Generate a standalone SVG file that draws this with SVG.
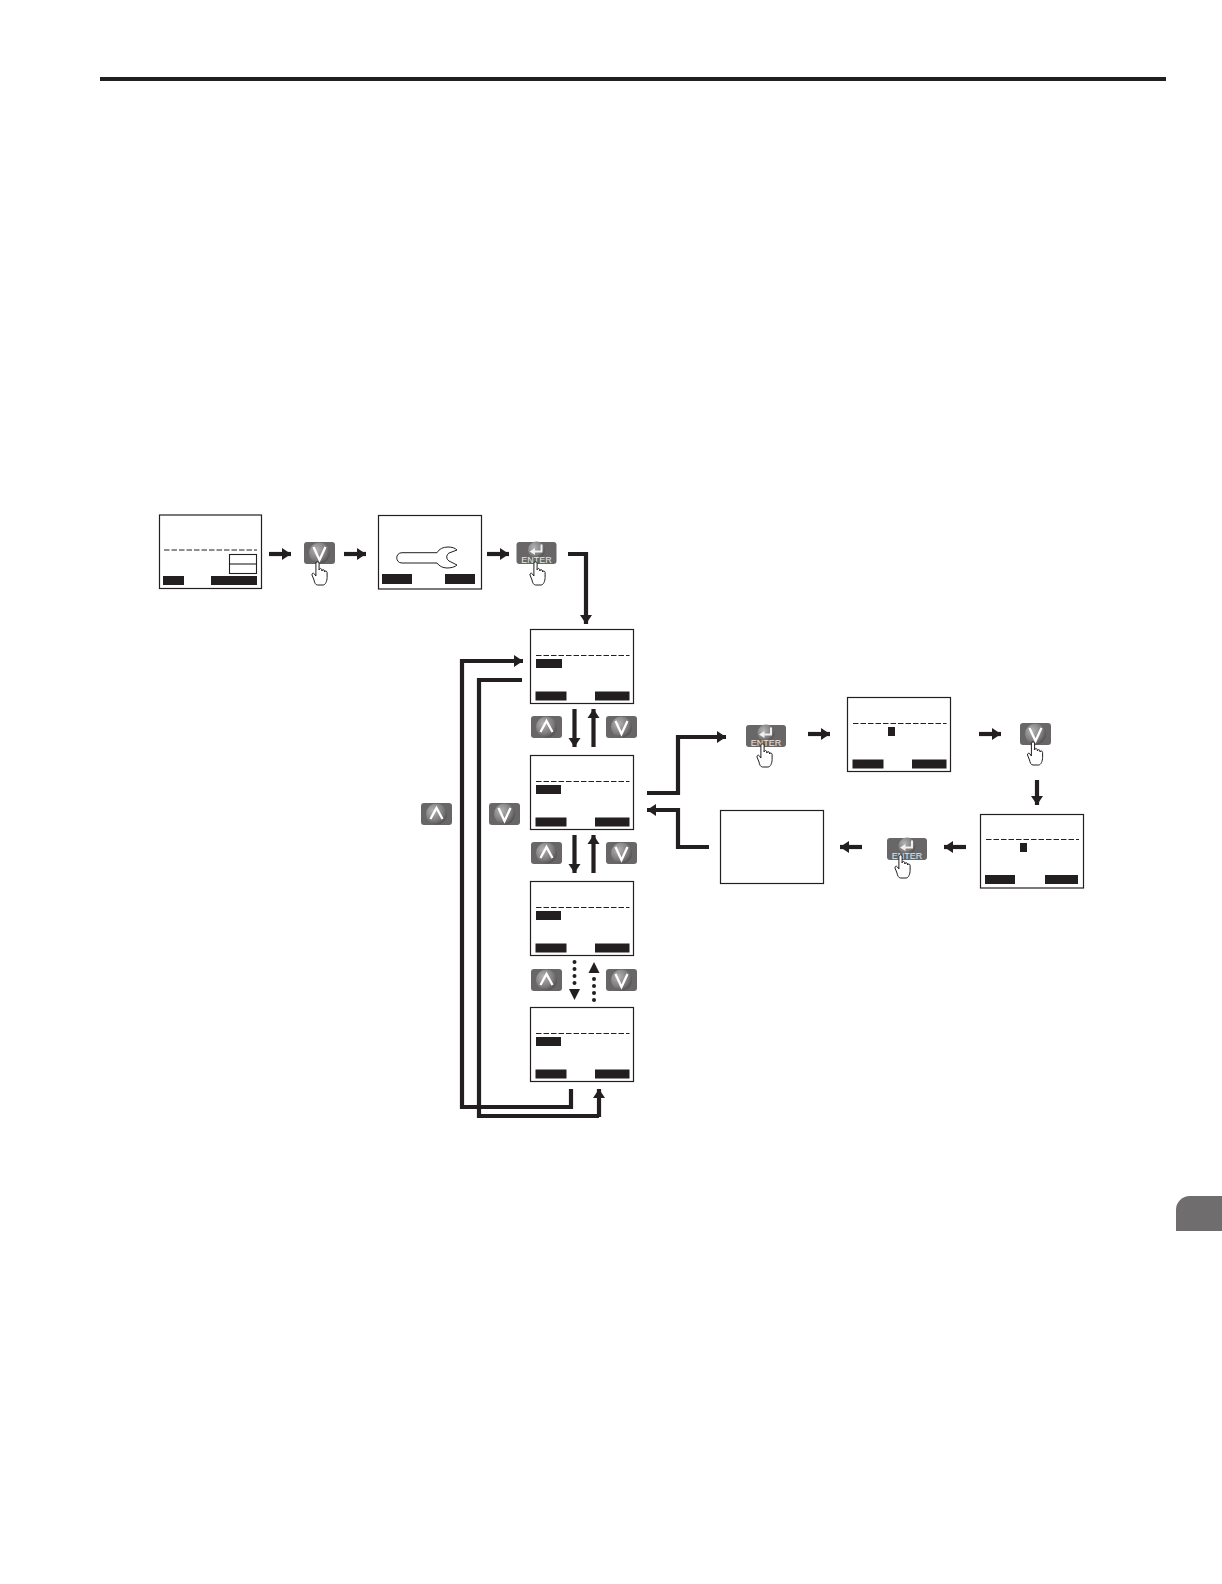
<svg xmlns="http://www.w3.org/2000/svg" xmlns:xlink="http://www.w3.org/1999/xlink" width="1222" height="1584" viewBox="0 0 1222 1584">
<style>
.scr{fill:#fff;stroke:#231f20;stroke-width:1.2}
.dash{fill:none;stroke:#231f20;stroke-width:1.2;stroke-dasharray:5.500 2}
.bar{fill:#231f20}
.ln{fill:none;stroke:#231f20;stroke-width:4.200;stroke-linejoin:miter}
.ar{fill:none;stroke:#231f20;stroke-width:4.200;marker-end:url(#ah)}
.dot{fill:#231f20}
.hand{fill:#fff;stroke:#231f20;stroke-width:1;stroke-linejoin:round}
.btn{fill:#686666}
.gl{fill:none;stroke:#fff;stroke-width:2.300;stroke-linejoin:miter}
.ent{font-family:"Liberation Sans",Arial,sans-serif;font-size:9px;fill:#e6e6e6;text-anchor:middle}
</style>
<defs>
<marker id="ah" markerUnits="userSpaceOnUse" markerWidth="10" markerHeight="13" refX="9" refY="6.500" orient="auto"><path d="M0,0.500 L9,6.500 L0,12.500 Z" fill="#231f20"/></marker>
<radialGradient id="g" cx=".35" cy=".35" r=".8"><stop offset="0" stop-color="#b4b4b4"/><stop offset=".6" stop-color="#7c7a7a"/><stop offset="1" stop-color="#3f3d3d"/></radialGradient>
<g id="bb"><rect class="btn" width="31" height="22" rx="3"/><circle cx="15.500" cy="11" r="10.500" fill="url(#g)"/></g>
<g id="up"><use href="#bb"/><path class="gl" d="M9.500,16 L15.500,5 L21.500,16"/></g>
<g id="dn"><use href="#bb"/><path class="gl" d="M9.500,5 L15.500,18 L21.500,5"/></g>
<g id="en"><rect class="btn" width="40" height="22" rx="3"/><circle cx="20" cy="8" r="8.500" fill="url(#g)"/><path d="M25,2.500 V9.500 H18" fill="none" stroke="#f0f0f0" stroke-width="2"/><path d="M18.500,6 L13,9.500 L18.500,13 Z" fill="#f0f0f0"/></g>
<path id="hd" class="hand" d="M-1.600,1 C-1.600,-.5 1.600,-.5 1.600,1 L1.600,8 C2,6 4.100,6 4.300,8 L4.300,9 C4.600,7.200 6.800,7.200 7,9 L7,10 C7.300,8.600 9.400,8.600 9.600,10.400 L9.600,15.500 C9.600,19 8,23 5.500,23 L0,23 C-2,23 -3,20.500 -3.500,18 L-5.500,13 C-6,11.400 -4,10.400 -3,12 L-1.600,14 Z"/>
<g id="sc"><rect class="scr" x="0" y="0" width="103" height="74"/><path class="dash" d="M5.500,26 H99"/><rect class="bar" x="5" y="62" width="31" height="9"/><rect class="bar" x="64.500" y="62" width="34.500" height="9"/></g>
</defs>
<rect width="1222" height="1584" fill="#fff"/>
<rect x="100" y="77" width="1066" height="4" fill="#231f20"/>
<path d="M1222,1196 H1190 A14,14 0 0 0 1176,1210 V1231 H1222 Z" fill="#6f6d6d"/>

<g id="connectors">
<path class="ar" d="M269,554 H291"/>
<path class="ar" d="M344,554 H366"/>
<path class="ar" d="M487,554 H509"/>
<path class="ar" d="M568,554 H586 V624"/>
<path class="ar" d="M571,1089 V1107 H462 V661 H523"/>
<path class="ln" d="M522,680 H479 V1116 H599"/>
<path class="ar" d="M599,1117 V1089"/>
<path class="ar" d="M574.500,709 V747"/>
<path class="ar" d="M593.500,747 V709"/>
<path class="ar" d="M574.500,835 V873"/>
<path class="ar" d="M593.500,873 V835"/>
<g class="dot"><circle cx="574.500" cy="962" r="2"/><circle cx="574.500" cy="969" r="2"/><circle cx="574.500" cy="976" r="2"/><circle cx="574.500" cy="983" r="2"/><path d="M569,989 H580 L574.500,1000 Z"/><path d="M588.500,973 H599.500 L594,962 Z"/><circle cx="594" cy="979" r="2"/><circle cx="594" cy="986" r="2"/><circle cx="594" cy="993" r="2"/><circle cx="594" cy="1000" r="2"/></g>
<path class="ar" d="M647,793 H678 V737 H726"/>
<path class="ar" d="M709,847 H678 V810 H647"/>
<path class="ar" d="M808,734 H830"/>
<path class="ar" d="M979,734 H1001"/>
<path class="ar" d="M1037,780 V805"/>
<path class="ar" d="M966,847 H944"/>
<path class="ar" d="M862,847 H840"/>
</g>

<g id="screen1"><rect class="scr" x="159.500" y="515" width="102" height="73.500"/><path class="dash" d="M164,550 H257"/><rect x="229.500" y="554.500" width="27" height="19" fill="none" stroke="#231f20" stroke-width="1.100"/><path d="M229.500,564 H256.500" stroke="#231f20" stroke-width="1.100"/><rect class="bar" x="163" y="576" width="21" height="9"/><rect class="bar" x="211" y="576" width="46" height="9"/></g>
<g id="btn-down1"><use href="#dn" x="304" y="542"/><use href="#hd" x="317.500" y="562"/></g>
<g id="screen2"><rect class="scr" x="378.500" y="515.500" width="103" height="73.500"/><path d="M402,552.700 H437 C439,549 443,547 448,547 C452,547 455,548 457,550 L449,553 C446,555 446,559 449,561 L457,565 C455,567 451,568 447,568 C443,568 439,566 437,563 H402 C395,563 395,552.700 402,552.700 Z" fill="#fff" stroke="#231f20" stroke-width="1"/><rect class="bar" x="382" y="574" width="30" height="10"/><rect class="bar" x="445" y="574" width="30" height="10"/></g>
<g id="btn-enter1"><use href="#en" x="516.500" y="542"/><text class="ent" x="536.500" y="563">ENTER</text><use href="#hd" x="535.500" y="562"/></g>

<g id="menu1"><use href="#sc" x="530.500" y="629.500"/><rect class="bar" x="536" y="659" width="26" height="9"/></g>
<g id="menu2"><use href="#sc" x="530.500" y="755.500"/><rect class="bar" x="536" y="785" width="25" height="9"/></g>
<g id="menu3"><use href="#sc" x="530.500" y="881.500"/><rect class="bar" x="536" y="911" width="25" height="9"/></g>
<g id="menu4"><use href="#sc" x="530.500" y="1007.500"/><rect class="bar" x="536" y="1037" width="25" height="9"/></g>

<g id="btn-up-a"><use href="#up" x="531" y="716"/></g>
<g id="btn-dn-a"><use href="#dn" x="606" y="716"/></g>
<g id="btn-up-b"><use href="#up" x="531" y="842"/></g>
<g id="btn-dn-b"><use href="#dn" x="606" y="842"/></g>
<g id="btn-up-c"><use href="#up" x="531" y="969"/></g>
<g id="btn-dn-c"><use href="#dn" x="606" y="969"/></g>
<g id="btn-up-left"><use href="#up" x="421" y="803"/></g>
<g id="btn-dn-left"><use href="#dn" x="489" y="803"/></g>

<g id="btn-enter2"><use href="#en" x="746" y="725"/><text class="ent" x="766" y="746">ENTER</text><use href="#hd" x="762.500" y="744"/></g>
<g id="screen3"><use href="#sc" x="847.500" y="697.500"/><rect class="bar" x="888" y="727" width="7" height="9"/></g>
<g id="btn-down2"><use href="#dn" x="1020" y="723"/><use href="#hd" x="1033" y="742"/></g>
<g id="screen4"><rect class="scr" x="980.500" y="814.500" width="103" height="73.500"/><path class="dash" d="M986,839.500 H1079"/><rect class="bar" x="985" y="875" width="30" height="9"/><rect class="bar" x="1045" y="875" width="33" height="9"/><rect class="bar" x="1020" y="843" width="7" height="9"/></g>
<g id="btn-enter3"><use href="#en" x="887" y="838"/><text class="ent" x="907" y="859">ENTER</text><use href="#hd" x="900.500" y="855"/></g>
<g id="screen5"><rect class="scr" x="720.500" y="810.500" width="103" height="73"/></g>
</svg>
